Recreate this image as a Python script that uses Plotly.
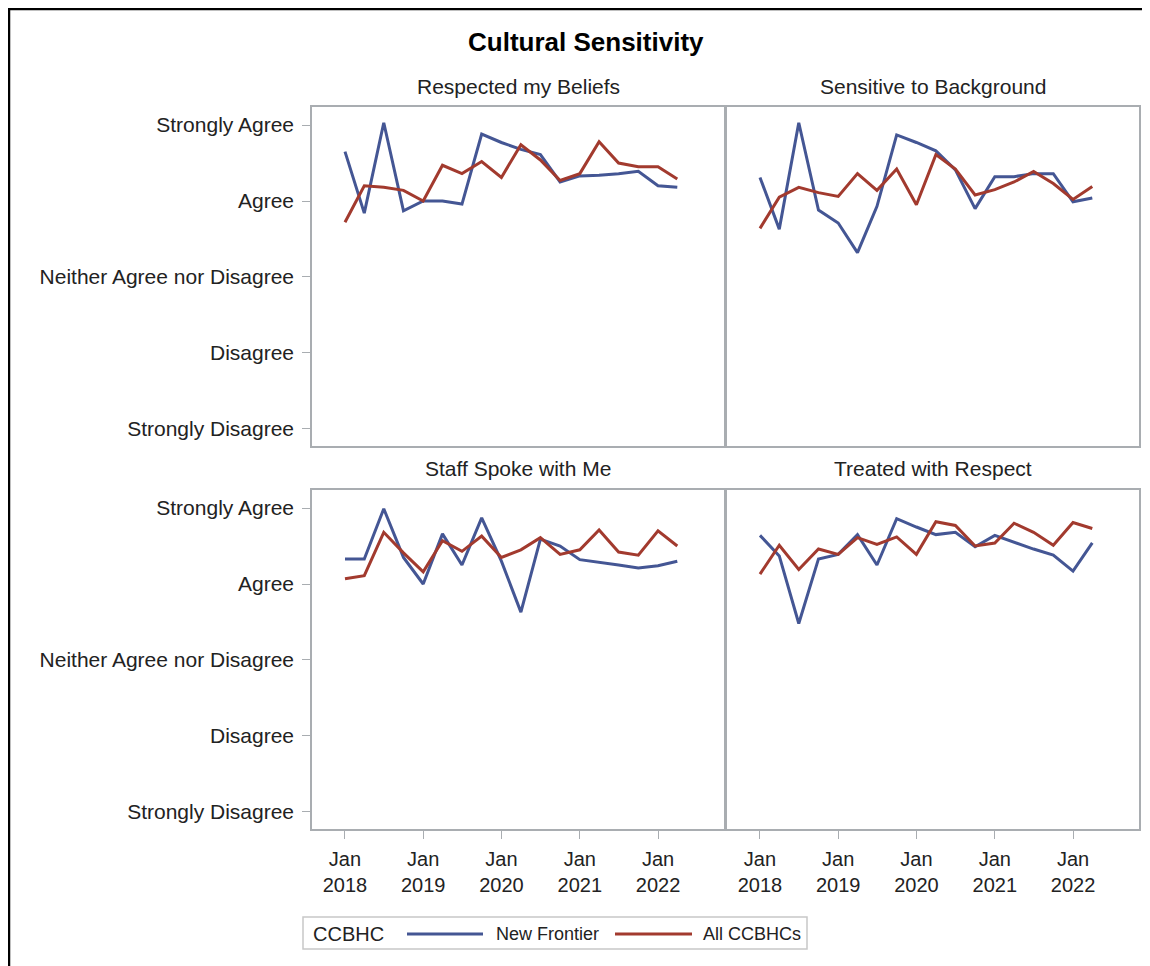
"""
Cultural Sensitivity - 2x2 panel line chart
"""

import plotly.graph_objects as go

W, H = 1150, 966
OFF = 8  # page body margin in the browser

dates = ["2018-01-01", "2018-04-01", "2018-07-01", "2018-10-01",
         "2019-01-01", "2019-04-01", "2019-07-01", "2019-10-01",
         "2020-01-01", "2020-04-01", "2020-07-01", "2020-10-01",
         "2021-01-01", "2021-04-01", "2021-07-01", "2021-10-01",
         "2022-01-01", "2022-04-01"]

panel_titles = ["Respected my Beliefs", "Sensitive to Background",
                "Staff Spoke with Me", "Treated with Respect"]

scale_labels = ["Strongly Disagree", "Disagree", "Neither Agree nor Disagree",
                "Agree", "Strongly Agree"]

series_names = ["New Frontier", "All CCBHCs"]

beliefs_nf = [4.65, 3.84, 5.03, 3.87, 4.00, 4.00, 3.96, 4.88, 4.77, 4.68,
              4.61, 4.25, 4.33, 4.34, 4.36, 4.39, 4.20, 4.18]
beliefs_all = [3.72, 4.20, 4.18, 4.14, 4.00, 4.47, 4.36, 4.52, 4.31, 4.74,
               4.54, 4.27, 4.36, 4.78, 4.50, 4.45, 4.45, 4.29]

background_nf = [4.31, 3.63, 5.03, 3.88, 3.71, 3.32, 3.93, 4.87, 4.77, 4.66,
                 4.41, 3.90, 4.32, 4.32, 4.36, 4.36, 3.99, 4.04]
background_all = [3.64, 4.05, 4.18, 4.11, 4.06, 4.36, 4.14, 4.42, 3.95, 4.61,
                  4.42, 4.08, 4.15, 4.25, 4.39, 4.23, 4.02, 4.19]

spoke_nf = [4.33, 4.33, 4.99, 4.35, 4.00, 4.66, 4.25, 4.87, 4.30, 3.63,
            4.59, 4.50, 4.32, 4.29, 4.25, 4.21, 4.24, 4.30]
spoke_all = [4.07, 4.11, 4.68, 4.41, 4.16, 4.57, 4.43, 4.63, 4.35, 4.45,
             4.61, 4.39, 4.45, 4.71, 4.42, 4.38, 4.70, 4.50]

respect_nf = [4.64, 4.37, 3.48, 4.33, 4.39, 4.65, 4.25, 4.86, 4.75, 4.65,
              4.68, 4.49, 4.64, 4.55, 4.46, 4.38, 4.17, 4.54]
respect_all = [4.13, 4.51, 4.19, 4.46, 4.39, 4.61, 4.52, 4.62, 4.39, 4.82,
               4.77, 4.50, 4.54, 4.80, 4.68, 4.51, 4.81, 4.73]

panel_data = [(beliefs_nf, beliefs_all), (background_nf, background_all),
              (spoke_nf, spoke_all), (respect_nf, respect_all)]

colors = ["#445694", "#A23A2E"]
grey = "#a9adb1"
font = "Liberation Sans, Arial, sans-serif"


def px_x(p):
    return (p - OFF) / W


def px_y(p):
    return 1 - (p - OFF) / H


x_domains = [[px_x(312), px_x(724)], [px_x(727), px_x(1139)]]
y_domains = [[px_y(446), px_y(107)], [px_y(829), px_y(490)]]

fig = go.Figure()

for i, (nf, allc) in enumerate(panel_data):
    n = i + 1
    suffix = "" if n == 1 else str(n)
    for name, vals, c in zip(series_names, (nf, allc), colors):
        fig.add_trace(go.Scatter(x=dates, y=vals, mode="lines", name=name,
                                 line=dict(color=c, width=3),
                                 xaxis="x" + suffix, yaxis="y" + suffix,
                                 showlegend=False))

    row, col = divmod(i, 2)
    show_y = col == 0
    show_x = row == 1
    fig.layout["xaxis" + suffix] = dict(
        domain=x_domains[col], anchor="y" + suffix, type="date",
        range=["2017-07-31", "2022-11-05"],
        tick0="2018-01-01", dtick="M12", tickformat="%b<br>%Y",
        showgrid=False, zeroline=False, showline=True, mirror=True,
        linecolor=grey, linewidth=1.5,
        ticks="outside" if show_x else "", ticklen=8, tickcolor=grey,
        ticklabelstandoff=3,
        showticklabels=show_x,
        tickfont=dict(family=font, size=20, color="#222"))
    fig.layout["yaxis" + suffix] = dict(
        domain=y_domains[row], anchor="x" + suffix,
        range=[0.776, 5.237], tickvals=[1, 2, 3, 4, 5], ticktext=scale_labels,
        showgrid=False, zeroline=False, showline=True, mirror=True,
        linecolor=grey, linewidth=1.5,
        ticks="outside" if show_y else "", ticklen=8, tickcolor=grey,
        ticklabelstandoff=4,
        showticklabels=show_y,
        tickfont=dict(family=font, size=21, color="#222"))

annotations = [dict(text="<b>Cultural Sensitivity</b>", x=px_x(586), y=px_y(42),
                    xref="paper", yref="paper", showarrow=False,
                    xanchor="center", yanchor="middle",
                    font=dict(family=font, size=26, color="#000"))]
title_pos = [(518, 86), (933, 86), (518, 468), (933, 468)]
for t, (tx, ty) in zip(panel_titles, title_pos):
    annotations.append(dict(text=t, x=px_x(tx), y=px_y(ty), xref="paper", yref="paper",
                            showarrow=False, xanchor="center", yanchor="middle",
                            font=dict(family=font, size=21, color="#222")))

# legend drawn by hand so the swatches match the original length
legend_items = [("CCBHC", 311, 20), ("New Frontier", 494, 18), ("All CCBHCs", 701, 18)]
for t, lx, fs in legend_items:
    annotations.append(dict(text=t, x=px_x(lx), y=px_y(934), xref="paper", yref="paper",
                            xanchor="left", yanchor="middle", showarrow=False,
                            font=dict(family=font, size=fs, color="#222")))

shapes = [
    dict(type="rect", xref="paper", yref="paper", x0=1 / W, x1=1.05,
         y0=-0.05, y1=1 - 1 / H, line=dict(color="#000", width=2.5)),
    dict(type="rect", xref="paper", yref="paper", x0=px_x(303), x1=px_x(807),
         y0=px_y(949), y1=px_y(917), line=dict(color="#c8c8c8", width=1.5)),
]
for c, (x0, x1) in zip(colors, [(407, 483), (615, 692)]):
    shapes.append(dict(type="line", xref="paper", yref="paper", x0=px_x(x0), x1=px_x(x1),
                       y0=px_y(934), y1=px_y(934), line=dict(color=c, width=3)))

fig.update_layout(width=W, height=H, margin=dict(l=0, r=0, t=0, b=0),
                  paper_bgcolor="white", plot_bgcolor="white",
                  annotations=annotations, shapes=shapes, showlegend=False,
                  font=dict(family=font, color="#222"))

fig.write_html("out.html")
